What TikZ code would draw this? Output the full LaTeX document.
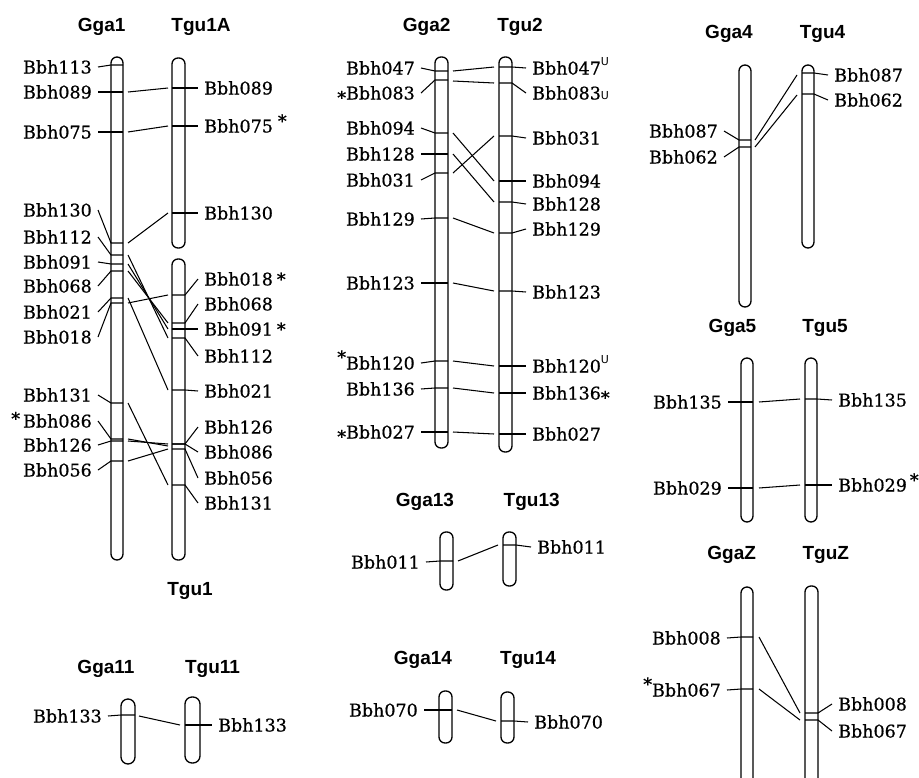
\documentclass[tikz,border=0pt]{standalone}
\usepackage{fontspec}
\setmainfont{DejaVu Serif}[FakeBold=0.7]
\newfontfamily\titlef{Liberation Sans}
\newfontfamily\supf{DejaVu Sans}
\newcommand\stmid{\raisebox{-0.25em}{*}}
\newcommand\sthi{\raisebox{0.15em}{*}}
\newcommand\supU{\raisebox{0.5em}{\supf\fontsize{11}{11}\selectfont U}}
\newcommand\subU{{\supf\fontsize{11}{11}\selectfont U}}
\tikzset{
 chrom/.style={draw, line width=1.3pt, rounded corners=6pt, fill=white},
 conn/.style={line width=1.05pt},
 lbl/.style={inner sep=0pt, font=\fontsize{17.5}{18}\selectfont},
 ttl/.style={inner sep=0pt, anchor=base, font=\titlef\bfseries\fontsize{19}{20}\selectfont},
}
% left label: name, label right x, label y, text, chrom left x, chrom right x, marker y
\newcommand\LM[7]{%
  \node[lbl,anchor=base east] (#1) at (#2,#3+6.5) {#4};
  \coordinate (#1-l) at (#2+6,#3);
  \coordinate (#1-m) at (#5,#7);
  \coordinate (#1-r) at (#6,#7);
  \draw[conn] (#1-l) -- (#1-m) -- (#1-r);
}
% right label: name, label left x, label y, text, chrom left x, chrom right x, marker y
\newcommand\RM[7]{%
  \node[lbl,anchor=base west] (#1) at (#2,#3+6.5) {#4};
  \coordinate (#1-l) at (#2-6,#3);
  \coordinate (#1-m) at (#6,#7);
  \coordinate (#1-s) at (#5,#7);
  \draw[conn] (#1-s) -- (#1-m) -- (#1-l);
}
% connector between chromosomes
\newcommand\CN[5]{%
  \coordinate (#1-a) at (#2,#3);
  \coordinate (#1-b) at (#4,#5);
  \draw[conn] (#1-a) -- (#1-b);
}
\begin{document}
\begin{tikzpicture}[x=1pt,y=-1pt]
\fill[white] (0,0) rectangle (919,777);
\useasboundingbox (0,0) rectangle (919,777);

% ---------- titles ----------
\node[ttl] (T-gga1) at (101.7,31) {Gga1};
\node[ttl] (T-tgu1a) at (201,31) {Tgu1A};
\node[ttl] (T-tgu1) at (190,595) {Tgu1};
\node[ttl] (T-gga11) at (106,673) {Gga11};
\node[ttl] (T-tgu11) at (212.5,673) {Tgu11};
\node[ttl] (T-gga2) at (426.7,31) {Gga2};
\node[ttl] (T-tgu2) at (520,31) {Tgu2};
\node[ttl] (T-gga13) at (425,506.5) {Gga13};
\node[ttl] (T-tgu13) at (531.7,506.5) {Tgu13};
\node[ttl] (T-gga14) at (423,664) {Gga14};
\node[ttl] (T-tgu14) at (528,664) {Tgu14};
\node[ttl] (T-gga4) at (729,38) {Gga4};
\node[ttl] (T-tgu4) at (822.5,38) {Tgu4};
\node[ttl] (T-gga5) at (732.5,332) {Gga5};
\node[ttl] (T-tgu5) at (825,332) {Tgu5};
\node[ttl] (T-ggaz) at (731.7,559.5) {GgaZ};
\node[ttl] (T-tguz) at (825.8,559.5) {TguZ};

% ---------- chromosomes ----------
\draw[chrom] (111,57) rectangle (123,560);
\draw[chrom] (172,58) rectangle (185,248);
\draw[chrom] (172,259) rectangle (185,560);
\draw[chrom,rounded corners=7pt] (121,699) rectangle (135,764);
\draw[chrom,rounded corners=7pt] (185,697) rectangle (200,763);
\draw[chrom] (435,57) rectangle (448,448);
\draw[chrom] (499,57) rectangle (512,452);
\draw[chrom] (440,532) rectangle (453,590);
\draw[chrom] (503,532) rectangle (516,586);
\draw[chrom] (439,691) rectangle (452,743);
\draw[chrom] (501,692) rectangle (514,743);
\draw[chrom] (739,65) rectangle (751,307);
\draw[chrom] (802,65) rectangle (814,248);
\draw[chrom] (741,358) rectangle (753,522);
\draw[chrom] (805,358) rectangle (817,522);
\begin{scope}
\clip (0,0) rectangle (919,777);
\draw[chrom] (741,587) rectangle (753,800);
\draw[chrom] (805,586) rectangle (818,800);
\end{scope}

% ---------- Gga1 / Tgu1 ----------
\LM{g1a}{92}{67}{Bbh113}{111}{123}{65}
\LM{g1b}{92}{92}{Bbh089}{111}{123}{92}
\LM{g1c}{92}{132}{Bbh075}{111}{123}{132}
\LM{g1d}{92}{210}{Bbh130}{111}{123}{243}
\LM{g1e}{92}{237}{Bbh112}{111}{123}{255}
\LM{g1f}{92}{262}{Bbh091}{111}{123}{264}
\LM{g1g}{92}{286}{Bbh068}{111}{123}{271}
\LM{g1h}{92}{312}{Bbh021}{111}{123}{298}
\LM{g1i}{92}{337}{Bbh018}{111}{123}{303}
\LM{g1j}{92}{395}{Bbh131}{111}{123}{403}
\LM{g1k}{92}{421}{\sthi\hspace{3pt}Bbh086}{111}{123}{439}
\LM{g1l}{92}{445}{Bbh126}{111}{123}{441}
\LM{g1m}{92}{470}{Bbh056}{111}{123}{461}

\RM{t1a}{204}{88}{Bbh089}{172}{185}{88}
\RM{t1b}{204}{126}{Bbh075\hspace{5pt}\raisebox{0.3em}{*}}{172}{185}{126}
\RM{t1c}{204}{213}{Bbh130}{172}{185}{213}
\RM{t1d}{204}{279}{Bbh018\hspace{4pt}*}{172}{185}{295}
\RM{t1e}{204}{304}{Bbh068}{172}{185}{323}
\RM{t1f}{204}{329}{Bbh091\hspace{4pt}*}{172}{185}{329}
\RM{t1g}{204}{356}{Bbh112}{172}{185}{338}
\RM{t1h}{204}{391}{Bbh021}{172}{185}{390}
\RM{t1i}{204}{427}{Bbh126}{172}{185}{444}
\RM{t1j}{204}{452}{Bbh086}{172}{185}{444}
\RM{t1k}{204}{478}{Bbh056}{172}{185}{449}
\RM{t1l}{204}{503}{Bbh131}{172}{185}{485}

\CN{c1a}{128}{92}{168}{88}
\CN{c1b}{128}{132}{168}{126}
\CN{c1c}{128}{243}{168}{213}
\CN{c1d}{128}{255}{168}{338}
\CN{c1e}{128}{264}{168}{329}
\CN{c1f}{128}{271}{168}{323}
\CN{c1g}{128}{298}{168}{390}
\CN{c1h}{128}{303}{168}{295}
\CN{c1i}{128}{403}{168}{485}
\CN{c1j}{128}{439}{168}{446}
\CN{c1k}{128}{441}{168}{444}
\CN{c1l}{128}{461}{168}{449}

% ---------- Gga11 / Tgu11 ----------
\LM{g11}{102}{716}{Bbh133}{121}{135}{715}
\RM{t11}{218}{725}{Bbh133}{185}{200}{725}
\CN{c11}{139}{716}{180}{725}

% ---------- Gga2 / Tgu2 ----------
\LM{g2a}{415}{68}{Bbh047}{435}{448}{71}
\LM{g2b}{415}{93}{\stmid Bbh083}{435}{448}{80}
\LM{g2c}{415}{128}{Bbh094}{435}{448}{133}
\LM{g2d}{415}{154}{Bbh128}{435}{448}{154}
\LM{g2e}{415}{180}{Bbh031}{435}{448}{173}
\LM{g2f}{415}{219}{Bbh129}{435}{448}{218}
\LM{g2g}{415}{283}{Bbh123}{435}{448}{283}
\LM{g2h}{415}{363}{\raisebox{0.35em}{*}Bbh120}{435}{448}{361}
\LM{g2i}{415}{389}{Bbh136}{435}{448}{388}
\LM{g2j}{415}{432}{\stmid Bbh027}{435}{448}{432}

\RM{t2a}{532}{68}{Bbh047\supU}{499}{512}{67}
\RM{t2b}{532}{93}{Bbh083\subU}{499}{512}{83}
\RM{t2c}{532}{138}{Bbh031}{499}{512}{136}
\RM{t2d}{532}{181}{Bbh094}{499}{512}{181}
\RM{t2e}{532}{204}{Bbh128}{499}{512}{202}
\RM{t2f}{532}{229}{Bbh129}{499}{512}{233}
\RM{t2g}{532}{292}{Bbh123}{499}{512}{291}
\RM{t2h}{532}{366}{Bbh120\supU}{499}{512}{366}
\RM{t2i}{532}{393}{Bbh136\stmid}{499}{512}{393}
\RM{t2j}{532}{434}{Bbh027}{499}{512}{434}

\CN{c2a}{453}{71}{494}{67}
\CN{c2b}{453}{81}{494}{83}
\CN{c2c}{453}{133}{494}{181}
\CN{c2d}{453}{154}{494}{202}
\CN{c2e}{453}{173}{494}{136}
\CN{c2f}{453}{218}{494}{233}
\CN{c2g}{453}{283}{494}{291}
\CN{c2h}{453}{361}{494}{366}
\CN{c2i}{453}{388}{494}{393}
\CN{c2j}{453}{432}{494}{434}

% ---------- Gga13 / Tgu13 ----------
\LM{g13}{420}{562}{Bbh011}{440}{453}{561}
\RM{t13}{537}{547}{Bbh011}{503}{516}{545}
\CN{c13}{458}{561}{498}{545}

% ---------- Gga14 / Tgu14 ----------
\LM{g14}{418}{710}{Bbh070}{439}{452}{710}
\RM{t14}{534}{722}{Bbh070}{501}{514}{721}
\CN{c14}{457}{710}{496}{721}

% ---------- Gga4 / Tgu4 ----------
\LM{g4a}{718}{131}{Bbh087}{739}{751}{140}
\LM{g4b}{718}{157}{Bbh062}{739}{751}{147}
\RM{t4a}{834}{75}{Bbh087}{802}{814}{73}
\RM{t4b}{834}{100}{Bbh062}{802}{814}{94}
\CN{c4a}{755}{140}{797}{75}
\CN{c4b}{755}{147}{797}{95}

% ---------- Gga5 / Tgu5 ----------
\LM{g5a}{722}{402}{Bbh135}{741}{753}{402}
\LM{g5b}{722}{488}{Bbh029}{741}{753}{488}
\RM{t5a}{838}{400}{Bbh135}{805}{817}{399}
\RM{t5b}{838}{485}{Bbh029\hspace{3pt}\raisebox{0.3em}{*}}{805}{817}{485}
\CN{c5a}{759}{402}{800}{399}
\CN{c5b}{759}{488}{800}{485}

% ---------- GgaZ / TguZ ----------
\LM{gza}{721}{638}{Bbh008}{741}{753}{637}
\LM{gzb}{721}{690}{\raisebox{0.35em}{*}Bbh067}{741}{753}{689}
\RM{tza}{838}{704}{Bbh008}{805}{818}{713}
\RM{tzb}{838}{731}{Bbh067}{805}{818}{720}
\CN{cza}{759}{637}{800}{713}
\CN{czb}{759}{689}{800}{720}
\end{tikzpicture}
\end{document}
